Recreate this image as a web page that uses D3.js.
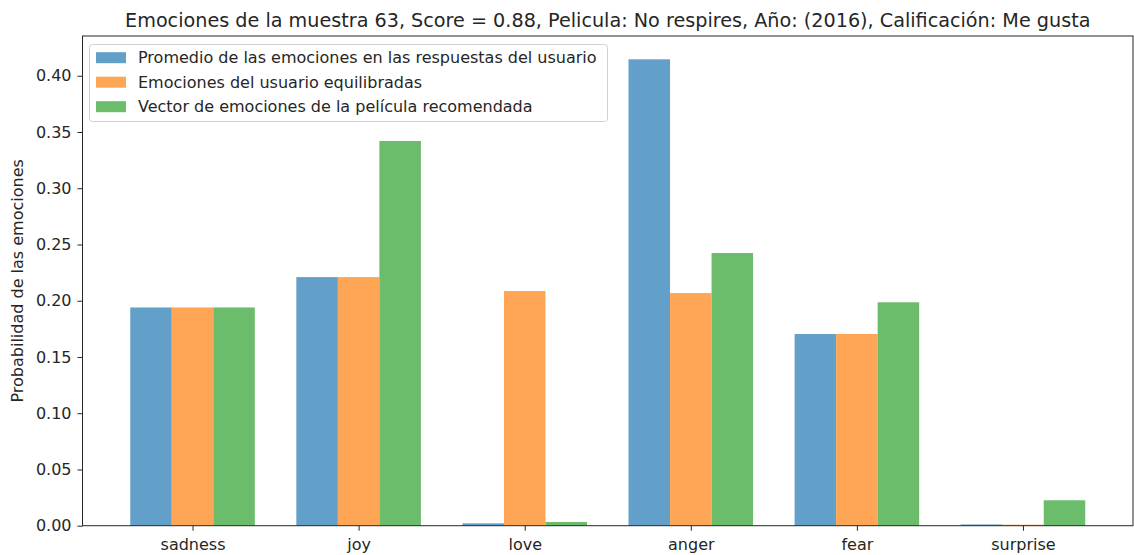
<!DOCTYPE html>
<html>
<head>
<meta charset="utf-8">
<script src="https://cdn.jsdelivr.net/npm/d3@7"></script>
<style>
  body { margin: 0; background: #fff; }
  text { font-family: "DejaVu Sans", sans-serif; fill: #262626; }
</style>
</head>
<body>
<script>
// data
var categories = ['sadness', 'joy', 'love', 'anger', 'fear', 'surprise'];
var promedio    = [0.194, 0.221, 0.0021, 0.4146, 0.1704, 0.0011];
var equilibrada = [0.194, 0.221, 0.2086, 0.2068, 0.1704, 0.0009];
var pelicula    = [0.194, 0.342, 0.0033, 0.2424, 0.1986, 0.0226];
var seriesNames = ['Promedio de las emociones en las respuestas del usuario',
                   'Emociones del usuario equilibradas',
                   'Vector de emociones de la película recomendada'];
var colors = ['#62a0ca', '#ffa556', '#6bbc6b'];
var yTicks = [0, 0.05, 0.1, 0.15, 0.2, 0.25, 0.3, 0.35, 0.4];

var width = 1134, height = 555;
var plotLeft = 82.5, plotRight = 1133, plotTop = 36, plotBottom = 525.7;
var barW = 0.25;

var series = [promedio, equilibrada, pelicula];
var ymax = d3.max(series, function(s){ return d3.max(s); }) * 1.05;

var x = d3.scaleLinear().domain([-0.6625, 5.6625]).range([plotLeft, plotRight]);
var y = d3.scaleLinear().domain([0, ymax]).range([plotBottom, plotTop]);

var svg = d3.select('body').append('svg').attr('width', width).attr('height', height);

// bars
series.forEach(function(s, i){
	svg.append('g').selectAll('rect').data(s).enter().append('rect')
		.attr('x', function(d, j){ return x(j + (i - 1) * barW - barW / 2); })
		.attr('width', function(d, j){ return x(barW) - x(0); })
		.attr('y', function(d){ return y(d); })
		.attr('height', function(d){ return y(0) - y(d); })
		.attr('fill', colors[i]);
});

// axes
var xAxis = d3.axisBottom(x).tickValues(d3.range(categories.length))
	.tickFormat(function(d){ return categories[d]; }).tickSize(5).tickPadding(8);
var yAxis = d3.axisLeft(y).tickValues(yTicks).tickFormat(d3.format('.2f')).tickSize(5).tickPadding(6);

var gx = svg.append('g').attr('transform', 'translate(0,' + plotBottom + ')').call(xAxis);
var gy = svg.append('g').attr('transform', 'translate(' + plotLeft + ',0)').call(yAxis);
[gx, gy].forEach(function(g){
	g.select('.domain').remove();
	g.selectAll('text').style('font-size', '16px').attr('fill', '#262626');
	g.selectAll('line').attr('stroke', '#262626');
});

// spines
svg.append('rect').attr('x', plotLeft).attr('y', plotTop)
	.attr('width', plotRight - plotLeft).attr('height', plotBottom - plotTop)
	.attr('fill', 'none').attr('stroke', '#262626').attr('stroke-width', 1);

// title + y label
svg.append('text').attr('x', (plotLeft + plotRight) / 2).attr('y', 27)
	.attr('text-anchor', 'middle').style('font-size', '19.2px')
	.text('Emociones de la muestra 63, Score = 0.88, Pelicula: No respires, Año: (2016), Calificación: Me gusta');

svg.append('text').attr('transform', 'translate(23,' + (plotTop + plotBottom) / 2 + ') rotate(-90)')
	.attr('text-anchor', 'middle').style('font-size', '16px')
	.text('Probabilidad de las emociones');

// legend
var legend = svg.append('g');
legend.append('rect').attr('x', 89.5).attr('y', 44.5).attr('width', 518).attr('height', 77)
	.attr('rx', 3).attr('fill', 'white').attr('fill-opacity', 0.8)
	.attr('stroke', '#d0d0d0');
seriesNames.forEach(function(name, i){
	var cy = 57.7 + i * 24.5;
	legend.append('rect').attr('x', 96).attr('y', cy - 5.5).attr('width', 30).attr('height', 11)
		.attr('fill', colors[i]);
	legend.append('text').attr('x', 138).attr('y', cy + 5.5).style('font-size', '16px').text(name);
});
</script>
</body>
</html>
